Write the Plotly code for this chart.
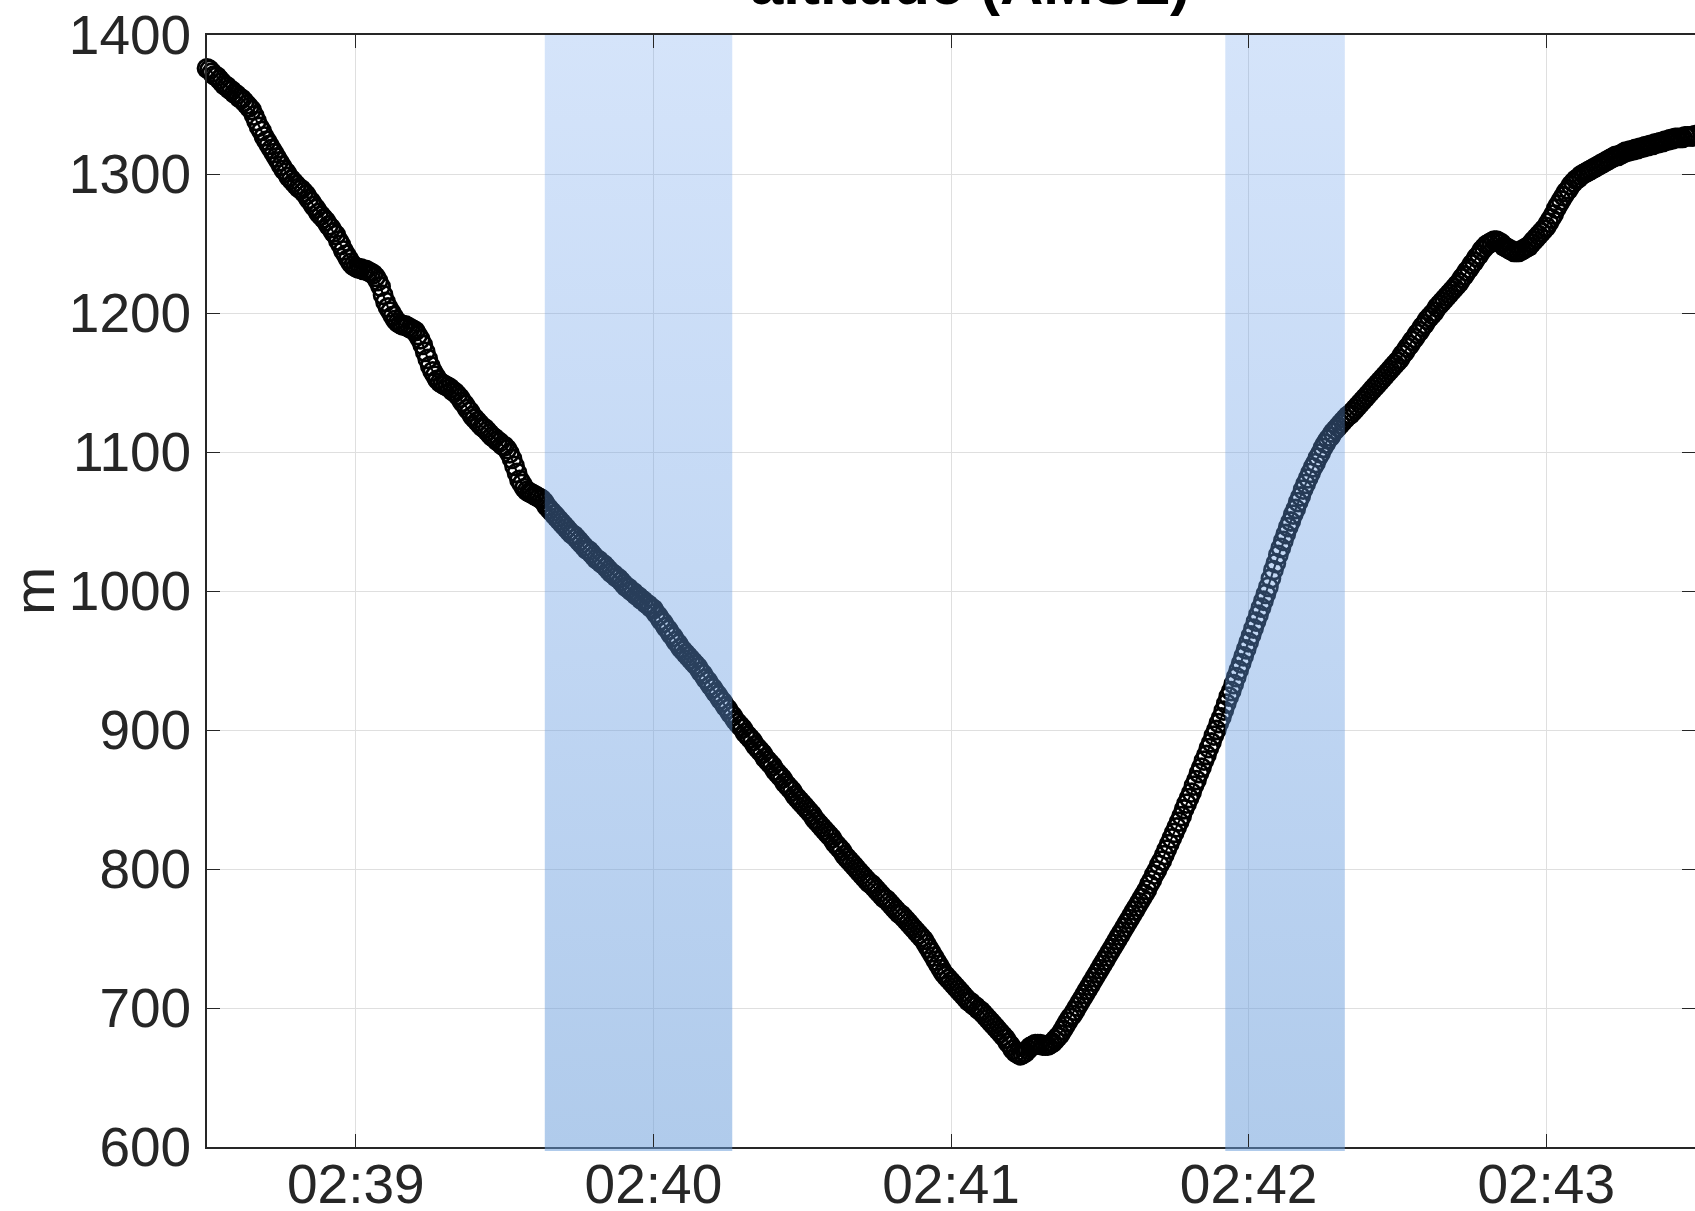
import numpy as np
import pandas as pd
import plotly.graph_objects as go

# Altitude track, two samples per second starting at 02:38:30
start_time = "2000-01-01 02:38:30"
sample_interval_s = 0.5
altitude_m = [
    1376, 1375, 1373, 1371, 1370, 1368, 1366, 1364, 1363, 1361,
    1360, 1358, 1357, 1355, 1354, 1352, 1350, 1348, 1346, 1342,
    1338, 1334, 1331, 1327, 1324, 1321, 1318, 1315, 1312, 1309,
    1306, 1303, 1301, 1298, 1296, 1294, 1292, 1290, 1289, 1287,
    1285, 1282, 1280, 1277, 1275, 1272, 1270, 1268, 1266, 1263,
    1261, 1258, 1256, 1252, 1249, 1245, 1242, 1239, 1236, 1234,
    1233, 1232, 1232, 1231, 1231, 1230, 1229, 1228, 1226, 1223,
    1219, 1213, 1208, 1204, 1201, 1198, 1195, 1193, 1192, 1191,
    1191, 1190, 1189, 1188, 1187, 1184, 1181, 1177, 1172, 1167,
    1162, 1158, 1155, 1152, 1150, 1149, 1148, 1147, 1146, 1144,
    1143, 1141, 1139, 1136, 1134, 1131, 1129, 1126, 1124, 1122,
    1120, 1118, 1117, 1115, 1113, 1111, 1110, 1108, 1107, 1105,
    1104, 1102, 1099, 1095, 1090, 1085, 1080, 1077, 1074, 1072,
    1071, 1070, 1069, 1068, 1067, 1066, 1064, 1061, 1059, 1057,
    1055, 1053, 1051, 1049, 1047, 1045, 1043, 1041, 1040, 1038,
    1036, 1034, 1032, 1030, 1029, 1027, 1025, 1023, 1022, 1020,
    1019, 1017, 1015, 1013, 1012, 1010, 1009, 1007, 1005, 1003,
    1002, 1000, 999, 997, 996, 994, 993, 991, 990, 988,
    987, 984, 982, 979, 977, 974, 972, 969, 967, 964,
    962, 959, 957, 955, 953, 951, 949, 947, 945, 942,
    940, 937, 935, 932, 930, 927, 925, 922, 920, 917,
    915, 912, 910, 907, 905, 903, 901, 898, 896, 894,
    892, 889, 887, 885, 883, 880, 878, 876, 874, 871,
    869, 867, 865, 862, 860, 858, 856, 853, 851, 849,
    847, 845, 843, 841, 839, 836, 834, 832, 830, 828,
    826, 824, 822, 819, 817, 815, 813, 810, 808, 806,
    804, 802, 800, 798, 796, 794, 792, 790, 789, 787,
    785, 783, 781, 779, 778, 776, 774, 772, 770, 768,
    767, 765, 763, 761, 759, 757, 755, 753, 751, 749,
    746, 743, 740, 737, 734, 731, 728, 725, 723, 721,
    719, 717, 715, 713, 711, 709, 707, 705, 704, 702,
    701, 699, 698, 696, 694, 692, 690, 688, 686, 684,
    682, 680, 678, 675, 673, 670, 668, 667, 666, 667,
    668, 670, 672, 673, 674, 674, 674, 673, 673, 673,
    674, 675, 677, 679, 681, 684, 687, 690, 693, 695,
    698, 701, 704, 707, 710, 713, 716, 719, 722, 725,
    728, 731, 734, 737, 740, 743, 746, 749, 752, 755,
    758, 761, 764, 767, 770, 773, 776, 779, 782, 785,
    789, 792, 796, 799, 803, 806, 810, 814, 818, 822,
    826, 830, 834, 838, 843, 847, 851, 855, 860, 864,
    869, 873, 878, 882, 887, 891, 896, 900, 905, 909,
    914, 919, 924, 928, 933, 938, 943, 948, 953, 958,
    963, 968, 973, 978, 983, 988, 993, 998, 1003, 1009,
    1015, 1020, 1026, 1031, 1036, 1041, 1046, 1050, 1055, 1059,
    1064, 1068, 1073, 1077, 1081, 1085, 1089, 1092, 1096, 1099,
    1103, 1106, 1109, 1111, 1114, 1116, 1118, 1120, 1122, 1124,
    1126, 1127, 1129, 1131, 1133, 1135, 1137, 1139, 1141, 1143,
    1145, 1147, 1149, 1151, 1153, 1155, 1157, 1159, 1161, 1163,
    1165, 1167, 1170, 1172, 1175, 1177, 1180, 1182, 1185, 1187,
    1190, 1192, 1195, 1197, 1199, 1201, 1204, 1206, 1208, 1210,
    1212, 1214, 1216, 1218, 1220, 1222, 1225, 1227, 1230, 1232,
    1235, 1237, 1240, 1242, 1245, 1247, 1249, 1250, 1251, 1252,
    1252, 1251, 1250, 1248, 1247, 1246, 1245, 1244, 1244, 1244,
    1245, 1246, 1247, 1248, 1250, 1252, 1254, 1256, 1258, 1260,
    1262, 1265, 1268, 1271, 1275, 1278, 1281, 1284, 1287, 1289,
    1292, 1294, 1296, 1297, 1299, 1300, 1301, 1302, 1303, 1304,
    1305, 1306, 1307, 1308, 1309, 1310, 1311, 1312, 1313, 1313,
    1314, 1315, 1316, 1316, 1317, 1317, 1318, 1318, 1319, 1319,
    1320, 1320, 1321, 1321, 1322, 1322, 1323, 1323, 1324, 1324,
    1325, 1325, 1326, 1326, 1326, 1326, 1327, 1327, 1327, 1327,
    1328,
]

# Highlighted time windows
band_starts = ["2000-01-01 02:39:38.1", "2000-01-01 02:41:55.3"]
band_ends = ["2000-01-01 02:40:15.9", "2000-01-01 02:42:19.4"]

# Axis settings
x_range = ["2000-01-01 02:38:30", "2000-01-01 02:43:30"]
x_tick0 = "2000-01-01 02:39:00"
y_range = [600, 1400]
y_ticks = [600, 700, 800, 900, 1000, 1100, 1200, 1300, 1400]

title_text = "altitude (AMSL)"
y_label = "m"

times = pd.Timestamp(start_time) + pd.to_timedelta(
    np.arange(len(altitude_m)) * sample_interval_s, unit="s")

ink = "#262626"
font_family = "Liberation Sans, Arial, Helvetica, sans-serif"
band_top = "rgba(99,155,236,0.27)"
band_bottom = "rgba(103,155,217,0.52)"

fig = go.Figure()

fig.add_trace(go.Scatter(
    x=times, y=altitude_m, mode="lines+markers",
    line=dict(color="black", width=2),
    marker=dict(symbol="circle-open", size=18, color="black",
                line=dict(width=2.8, color="black")),
    cliponaxis=False, showlegend=False, hoverinfo="x+y",
))

for x0, x1 in zip(band_starts, band_ends):
    fig.add_trace(go.Scatter(
        x=[x0, x1, x1, x0, x0],
        y=[y_range[0], y_range[0], y_range[1], y_range[1], y_range[0]],
        mode="lines", line=dict(width=0), fill="toself",
        fillgradient=dict(
            type="vertical",
            colorscale=[[0, band_bottom], [1, band_top]],
        ),
        showlegend=False, hoverinfo="skip",
    ))
    # slight overhang of the band below the bottom axis
    fig.add_shape(type="rect", xref="x", yref="paper",
                  x0=x0, x1=x1, y0=-0.0036, y1=0,
                  fillcolor=band_bottom, line=dict(width=0),
                  layer="above")

axis_common = dict(
    showline=True, linecolor=ink, linewidth=1.6, mirror="allticks",
    ticks="inside", ticklen=13, tickwidth=1.4, tickcolor=ink,
    showgrid=True, gridcolor="#dfdfdf", gridwidth=1.2,
    zeroline=False, automargin=False,
    tickfont=dict(family=font_family, size=55, color=ink),
)

fig.update_xaxes(
    type="date", range=x_range, tick0=x_tick0, dtick=60000,
    tickformat="%H:%M", ticklabelstandoff=-12, **axis_common,
)
fig.update_yaxes(
    range=y_range, tickvals=y_ticks, ticklabelstandoff=3, **axis_common,
)

fig.add_annotation(
    text=title_text, xref="paper", yref="paper",
    x=0.513, y=1 + (35 - 19) / 1112, xanchor="center", yanchor="bottom",
    showarrow=False,
    font=dict(family=font_family, size=60, color="black", weight="bold"),
)
fig.add_annotation(
    text=y_label, xref="paper", yref="paper",
    x=-(207 - 33) / 1488, y=0.5, xanchor="center", yanchor="middle",
    textangle=-90, showarrow=False,
    font=dict(family=font_family, size=58, color=ink),
)

fig.update_layout(
    width=1695, height=1211,
    margin=dict(l=207, r=0, t=35, b=64),
    paper_bgcolor="white", plot_bgcolor="white",
)

fig.write_html("out.html")
